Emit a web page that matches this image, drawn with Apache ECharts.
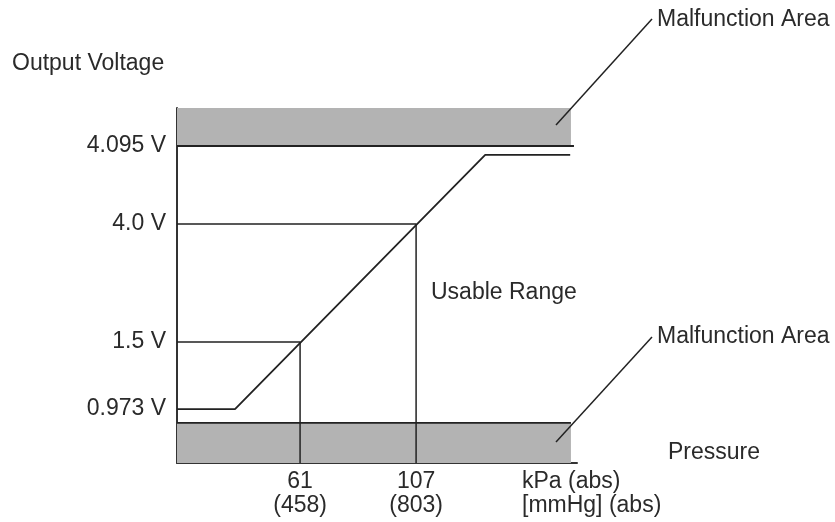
<!DOCTYPE html>
<html>
<head>
<meta charset="utf-8">
<script src="https://cdn.jsdelivr.net/npm/echarts@6/dist/echarts.min.js"></script>
<style>html,body{margin:0;padding:0;background:#fff;}#c{width:835px;height:522px;}</style>
</head>
<body>
<div id="c"></div>
<script>
// Pressure axis (kPa abs), schematic extent
const xMin = 12.2, xMax = 170.8;
const pressureKpa = [61, 107];
const pressureMmHg = [458, 803];
// Voltage levels: schematic vertical positions (diagram is not to scale)
const voltageLabels = ['0.973 V', '1.5 V', '4.0 V', '4.095 V'];
const voltageLevels = [15.2, 34.1, 67.3, 89.3];
// Output characteristic
const curveKpa = [12.2, 35.2, 134.4, 168.1];
const curveLevel = [15.2, 15.2, 86.8, 86.8];
// Malfunction areas
const lowBand = [0, 11.3];
const highBand = [89.3, 100];
const bandEndKpa = 168.4;
const limitLineEndKpa = 169.6;

const FONT = '"Liberation Sans", Arial, sans-serif';
const TXT = '#2a2a2a';
const LINE = '#222';
const fs = 23;

const chart = echarts.init(document.getElementById('c'));
const lineS = (data, w) => ({
  type: 'line', data, symbol: 'none', silent: true, animation: false,
  lineStyle: { color: LINE, width: w || 1.5 }, z: 5
});

chart.setOption({
  animation: false,
  grid: { left: 177, right: 258, top: 108, bottom: 59 },
  xAxis: {
    type: 'value', min: xMin, max: xMax,
    splitLine: { show: false },
    axisTick: { show: false },
    axisLine: { show: true, lineStyle: { color: '#333', width: 2 } },
    axisLabel: {
      customValues: pressureKpa,
      formatter: v => { const i = pressureKpa.indexOf(v); return i < 0 ? '' : pressureKpa[i] + '\n(' + pressureMmHg[i] + ')'; },
      color: TXT, fontSize: fs, fontFamily: FONT, lineHeight: 24, margin: 7
    }
  },
  yAxis: {
    type: 'value', min: 0, max: 100,
    splitLine: { show: false },
    axisTick: { show: false },
    axisLine: { show: true, lineStyle: { color: '#333', width: 2 } },
    axisLabel: {
      customValues: voltageLevels,
      formatter: v => { const i = voltageLevels.indexOf(v); return i < 0 ? '' : voltageLabels[i]; },
      color: TXT, fontSize: fs, fontFamily: FONT, margin: 11
    }
  },
  series: [
    {
      type: 'line', data: [], silent: true,
      markArea: {
        silent: true,
        itemStyle: { color: '#b3b3b3' },
        data: [
          [{ coord: [xMin, lowBand[0]] }, { coord: [bandEndKpa, lowBand[1]] }],
          [{ coord: [xMin, highBand[0]] }, { coord: [bandEndKpa, highBand[1]] }]
        ]
      }
    },
    lineS([[xMin, lowBand[1]], [bandEndKpa, lowBand[1]]], 1.8),
    lineS([[xMin, highBand[0]], [limitLineEndKpa, highBand[0]]], 1.8),
    lineS([[xMin, voltageLevels[1]], [pressureKpa[0], voltageLevels[1]], [pressureKpa[0], 0]], 1.5),
    lineS([[xMin, voltageLevels[2]], [pressureKpa[1], voltageLevels[2]], [pressureKpa[1], 0]], 1.5),
    lineS(curveKpa.map((k, i) => [k, curveLevel[i]]), 1.8)
  ],
  graphic: [
    { type: 'text', left: 12, top: 52, style: { text: 'Output Voltage', fill: TXT, font: fs + 'px ' + FONT } },
    { type: 'text', left: 657, top: 8, style: { text: 'Malfunction Area', fill: TXT, font: fs + 'px ' + FONT } },
    { type: 'text', left: 657, top: 325, style: { text: 'Malfunction Area', fill: TXT, font: fs + 'px ' + FONT } },
    { type: 'text', left: 431, top: 281, style: { text: 'Usable Range', fill: TXT, font: fs + 'px ' + FONT } },
    { type: 'text', left: 668, top: 441, style: { text: 'Pressure', fill: TXT, font: fs + 'px ' + FONT } },
    { type: 'text', left: 522, top: 470, style: { text: 'kPa (abs)', fill: TXT, font: fs + 'px ' + FONT } },
    { type: 'text', left: 522, top: 494, style: { text: '[mmHg] (abs)', fill: TXT, font: fs + 'px ' + FONT } },
    { type: 'line', z: 100, shape: { x1: 556, y1: 125, x2: 652, y2: 19 }, style: { stroke: LINE, lineWidth: 1.5 } },
    { type: 'line', z: 100, shape: { x1: 556, y1: 442, x2: 652, y2: 337 }, style: { stroke: LINE, lineWidth: 1.5 } }
  ]
});
</script>
</body>
</html>
